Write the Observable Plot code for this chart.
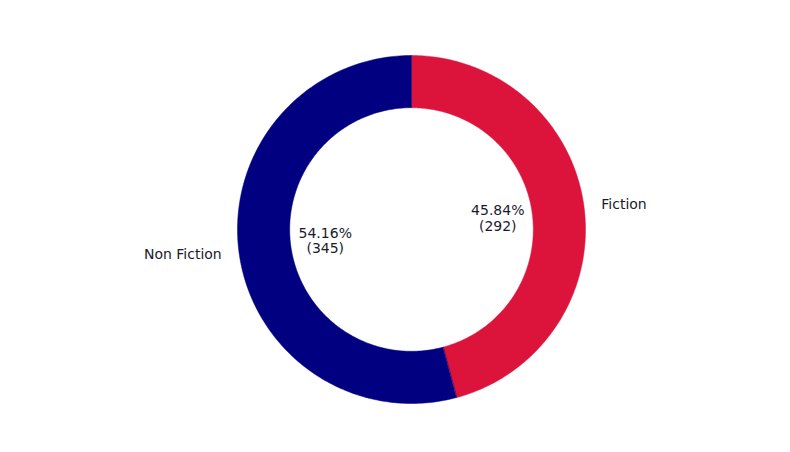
<!DOCTYPE html>
<html>
<head>
<script src="https://cdn.jsdelivr.net/npm/d3@7"></script>
<script src="https://cdn.jsdelivr.net/npm/@observablehq/plot@0.6"></script>
<style>body{margin:0;background:#fff}</style>
</head>
<body>
<div id="chart"></div>
<script>
// slice data
const categories = ["Fiction", "Non Fiction"];
const counts = [292, 345];
const colors = ["#DC143C", "#000080"];

const total = d3.sum(counts);
const inner = 0.7;

// build slice outlines (clockwise from top), angle measured from 12 o'clock
let rings = [], labels = [];
let start = 0;
counts.forEach((c, i) => {
  const sweep = c / total * 2 * Math.PI;
  const steps = 200;
  const pts = [];
  for (let k = 0; k <= steps; k++) {
    const a = start + sweep * k / steps;
    pts.push({cat: categories[i], x: Math.sin(a), y: Math.cos(a)});
  }
  for (let k = steps; k >= 0; k--) {
    const a = start + sweep * k / steps;
    pts.push({cat: categories[i], x: inner * Math.sin(a), y: inner * Math.cos(a)});
  }
  rings = rings.concat(pts);
  const mid = start + sweep / 2;
  labels.push({
    cat: categories[i],
    pct: (c / total * 100).toFixed(2) + "%\n(" + c + ")",
    px: 0.5 * Math.sin(mid), py: 0.5 * Math.cos(mid),
    lx: 1.1 * Math.sin(mid), ly: 1.1 * Math.cos(mid),
    anchor: Math.sin(mid) >= 0 ? "start" : "end"
  });
  start += sweep;
});

const chart = Plot.plot({
  width: 790,
  height: 452,
  margin: 0,
  style: {fontFamily: "DejaVu Sans", fontSize: "14px", color: "#1a1a2e"},
  x: {domain: [-1, 1], range: [411 - 174, 411 + 174], axis: null},
  y: {domain: [-1, 1], range: [229 + 174, 229 - 174], axis: null},
  color: {domain: categories, range: colors},
  marks: [
    Plot.line(rings, {x: "x", y: "y", z: "cat", fill: "cat", stroke: "cat", strokeWidth: 0.5, curve: "linear-closed"}),
    Plot.text(labels, {x: "px", y: "py", text: "pct", fontSize: 14, fill: "#1a1a2e", lineHeight: 1.1}),
    Plot.text(labels.filter(d => d.anchor === "start"), {x: "lx", y: "ly", text: "cat", textAnchor: "start", fontSize: 14, fill: "#1a1a2e"}),
    Plot.text(labels.filter(d => d.anchor === "end"), {x: "lx", y: "ly", text: "cat", textAnchor: "end", fontSize: 14, fill: "#1a1a2e"})
  ]
});
document.getElementById("chart").append(chart);
</script>
</body>
</html>
